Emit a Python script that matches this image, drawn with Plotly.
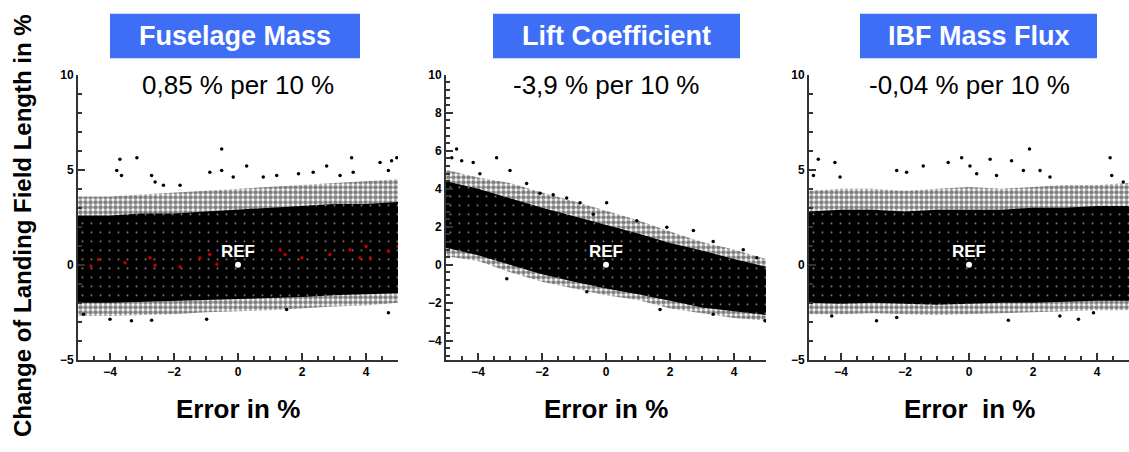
import plotly.graph_objects as go

# ---------------- data ----------------
ERR_GRID = [-5, -4, -3, -2, -1, 0, 1, 2, 3, 4, 5]

PANEL_TITLES = ["Fuselage Mass", "Lift Coefficient", "IBF Mass Flux"]
SENSITIVITIES = ["0,85 % per 10 %", "-3,9 % per 10 %", "-0,04 % per 10 %"]
X_TITLES = ["Error in %", "Error in %", "Error  in %"]
Y_TITLE = "Change of Landing Field Length in %"
REF_LABEL = "REF"
REF_X = [0]
REF_Y = [0]

# cloud envelopes: outer fringe and dense core (upper / lower edge per error value)
FUS_EDGE_HI = [3.6, 3.6, 3.7, 3.8, 3.9, 4.0, 4.1, 4.2, 4.3, 4.4, 4.5]
FUS_EDGE_LO = [-2.7, -2.7, -2.65, -2.6, -2.5, -2.45, -2.4, -2.3, -2.2, -2.15, -2.0]
FUS_CORE_HI = [2.6, 2.6, 2.7, 2.7, 2.8, 2.9, 3.0, 3.1, 3.2, 3.2, 3.3]
FUS_CORE_LO = [-2.0, -2.0, -1.95, -1.9, -1.85, -1.8, -1.75, -1.7, -1.6, -1.55, -1.5]

LIFT_EDGE_HI = [5.0, 4.6, 4.3, 3.8, 3.35, 2.85, 2.35, 1.75, 1.2, 0.8, 0.3]
LIFT_EDGE_LO = [0.45, 0.2, -0.4, -0.9, -1.25, -1.6, -1.85, -2.3, -2.55, -2.8, -2.95]
LIFT_CORE_HI = [4.4, 4.0, 3.5, 3.0, 2.55, 2.1, 1.65, 1.15, 0.75, 0.3, -0.1]
LIFT_CORE_LO = [0.9, 0.5, 0.0, -0.5, -0.9, -1.25, -1.55, -1.9, -2.25, -2.45, -2.65]

IBF_EDGE_HI = [3.9, 4.0, 4.0, 3.9, 4.0, 4.1, 4.0, 4.1, 4.2, 4.2, 4.3]
IBF_EDGE_LO = [-2.6, -2.6, -2.55, -2.6, -2.65, -2.6, -2.55, -2.5, -2.45, -2.4, -2.4]
IBF_CORE_HI = [2.8, 2.9, 2.9, 2.8, 2.9, 2.9, 2.9, 3.0, 3.0, 3.1, 3.1]
IBF_CORE_LO = [-2.0, -2.05, -2.0, -2.05, -2.1, -2.05, -2.0, -2.0, -1.95, -1.9, -1.9]

# isolated samples outside the cloud
FUS_OUT_X = [-3.69, -3.16, -3.79, -3.64, -2.70, -2.59, -2.33, -1.81, -0.88, -0.51, -0.51, -0.15,
             0.27, 0.79, 1.21, 1.89, 2.35, 2.77, 3.19, 3.55, 3.60, 4.44, 4.80, 4.96, 4.70,
             -3.33, -2.70, -0.98, 1.52, 4.70, -4.83, -4.00]
FUS_OUT_Y = [5.55, 5.64, 4.96, 4.70, 4.70, 4.36, 4.19, 4.19, 4.87, 6.10, 4.96, 4.62,
             5.20, 4.62, 4.70, 4.79, 4.87, 5.20, 4.70, 5.64, 4.87, 5.38, 5.47, 5.64, 4.96,
             -2.95, -2.92, -2.87, -2.36, -2.53, -2.60, -2.87]

LIFT_OUT_X = [-4.67, -4.82, -4.51, -4.15, -3.42, -3.00, -3.94, -2.48, -2.06, -1.65, -1.23, -0.81,
              0.02, -0.40, 0.96, 1.90, 2.73, 3.35, 4.29, 4.71,
              -3.10, -0.60, 1.69, 3.35, 4.97]
LIFT_OUT_Y = [6.10, 5.64, 5.47, 5.38, 5.64, 4.96, 4.79, 4.28, 3.77, 3.68, 3.51, 3.26,
              3.26, 2.66, 2.32, 1.98, 1.81, 1.22, 0.79, 0.37,
              -0.74, -1.42, -2.36, -2.61, -2.95]

IBF_OUT_X = [-4.71, -4.19, -4.86, -4.03, -2.26, -1.95, -1.43, -0.65, -0.23, 0.03, 0.24, 0.66,
             0.86, 1.33, 1.70, 1.89, 2.22, 2.53, 4.41, 4.46, 4.82,
             -4.29, -2.89, -2.26, 1.23, 2.84, 3.42, 3.89]
IBF_OUT_Y = [5.55, 5.38, 4.70, 4.62, 4.96, 4.87, 5.20, 5.38, 5.64, 5.20, 4.79, 5.55,
             4.70, 5.47, 4.96, 6.10, 4.96, 4.62, 5.64, 4.70, 4.36,
             -2.70, -2.95, -2.78, -2.92, -2.70, -2.87, -2.53]

# highlighted (red) samples in the fuselage panel
FUS_RED_X = [-4.60, -4.36, -3.53, -2.75, -2.59, -1.81, -1.19, -0.88, -0.66, 1.31, 1.47, 2.00,
             2.87, 3.50, 3.81, 4.13, 4.70, 5.00, 4.00]
FUS_RED_Y = [-0.06, 0.28, 0.11, 0.37, -0.03, -0.10, 0.37, 0.54, 0.03, 0.79, 0.54, 0.37,
             0.54, 0.79, 0.37, 0.37, 0.71, 0.96, 0.96]

PANELS = [
    dict(edge_hi=FUS_EDGE_HI, edge_lo=FUS_EDGE_LO, core_hi=FUS_CORE_HI, core_lo=FUS_CORE_LO,
         out_x=FUS_OUT_X, out_y=FUS_OUT_Y),
    dict(edge_hi=LIFT_EDGE_HI, edge_lo=LIFT_EDGE_LO, core_hi=LIFT_CORE_HI, core_lo=LIFT_CORE_LO,
         out_x=LIFT_OUT_X, out_y=LIFT_OUT_Y),
    dict(edge_hi=IBF_EDGE_HI, edge_lo=IBF_EDGE_LO, core_hi=IBF_CORE_HI, core_lo=IBF_CORE_LO,
         out_x=IBF_OUT_X, out_y=IBF_OUT_Y),
]

# ---------------- layout geometry ----------------
W, H = 1129, 452
X_DOMAINS = [(78, 398), (446, 766), (809, 1129)]
Y_TOP, Y_BOT = 70, 364
BOXES = [(110, 360), (493, 740), (860, 1097)]
BOX_TOP, BOX_BOT = 7, 53
BLUE = "#3d6ef5"
FONT = "Liberation Sans, Arial, sans-serif"


def px(x):
    return x / W


def py(y):
    return 1 - y / H


fig = go.Figure()

for i, p in enumerate(PANELS):
    xa = "x" if i == 0 else f"x{i+1}"
    ya = "y" if i == 0 else f"y{i+1}"
    poly_x = ERR_GRID + ERR_GRID[::-1]
    # fringe of the cloud (scattered dots)
    fig.add_trace(go.Scatter(
        x=poly_x, y=p["edge_hi"] + p["edge_lo"][::-1], xaxis=xa, yaxis=ya,
        mode="lines", line=dict(width=0), fill="toself", fillcolor="white",
        fillpattern=dict(shape=".", fgcolor="black", bgcolor="white", size=5, solidity=0.65),
        hoverinfo="skip", showlegend=False))
    # dense core (black with a few white specks)
    fig.add_trace(go.Scatter(
        x=poly_x, y=p["core_hi"] + p["core_lo"][::-1], xaxis=xa, yaxis=ya,
        mode="lines", line=dict(width=0), fill="toself", fillcolor="black",
        fillpattern=dict(shape=".", fgcolor="white", bgcolor="black", size=9, solidity=0.04),
        hoverinfo="skip", showlegend=False))
    # isolated samples
    fig.add_trace(go.Scatter(
        x=p["out_x"], y=p["out_y"], xaxis=xa, yaxis=ya, mode="markers",
        marker=dict(color="black", size=3.5), hoverinfo="skip", showlegend=False))
    if i == 0:
        fig.add_trace(go.Scatter(
            x=FUS_RED_X, y=FUS_RED_Y, xaxis=xa, yaxis=ya, mode="markers",
            marker=dict(color="#c00000", size=3.5), hoverinfo="skip", showlegend=False))
    # reference point
    fig.add_trace(go.Scatter(
        x=REF_X, y=REF_Y, xaxis=xa, yaxis=ya, mode="markers",
        marker=dict(color="white", size=6), hoverinfo="skip", showlegend=False))
    fig.add_annotation(x=REF_X[0], y=0.7, xref=xa, yref=ya, text=REF_LABEL, showarrow=False,
                       font=dict(family=FONT, size=17, color="white", weight="bold"),
                       xanchor="center", yanchor="middle")

    x0, x1 = X_DOMAINS[i]
    axis_common = dict(showline=True, linecolor="#333", linewidth=2, ticks="inside",
                       tickcolor="#333", tickwidth=1.5, ticklen=7, showgrid=False,
                       zeroline=False, tickfont=dict(family=FONT, size=12, color="black",
                                                     weight="bold"))
    xkey = "xaxis" if i == 0 else f"xaxis{i+1}"
    ykey = "yaxis" if i == 0 else f"yaxis{i+1}"
    fig.update_layout({
        xkey: dict(domain=[px(x0), px(x1)], range=[-5, 5], anchor=ya, dtick=2, tick0=0,
                   minor=dict(dtick=0.5, ticks="inside", ticklen=4, tickcolor="#333"),
                   **axis_common),
        ykey: dict(domain=[py(Y_BOT), py(Y_TOP)], range=[-5, 10], anchor=xa,
                   dtick=(2 if i == 1 else 5), tick0=0,
                   minor=dict(dtick=(0.4 if i == 1 else 1), tick0=0, ticks="inside",
                              ticklen=4, tickcolor="#333"),
                   **axis_common),
    })

    # blue title box
    b0, b1 = BOXES[i]
    fig.add_shape(type="rect", xref="paper", yref="paper", x0=px(b0), x1=px(b1),
                  y0=py(BOX_BOT), y1=py(BOX_TOP), fillcolor=BLUE, line=dict(width=0),
                  layer="above")
    fig.add_annotation(x=px((b0 + b1) / 2), y=py((BOX_TOP + BOX_BOT) / 2), xref="paper",
                       yref="paper", text=PANEL_TITLES[i], showarrow=False,
                       font=dict(family=FONT, size=27, color="white", weight="bold"),
                       xanchor="center", yanchor="middle")
    # sensitivity text
    cx = px((x0 + x1) / 2)
    fig.add_annotation(x=cx, y=py(80), xref="paper", yref="paper", text=SENSITIVITIES[i],
                       showarrow=False, font=dict(family=FONT, size=26, color="black"),
                       xanchor="center", yanchor="middle")
    # x title
    fig.add_annotation(x=cx, y=py(415), xref="paper", yref="paper", text=X_TITLES[i],
                       showarrow=False,
                       font=dict(family=FONT, size=26, color="black", weight="bold"),
                       xanchor="center", yanchor="middle")

fig.add_annotation(x=px(22), y=py(226), xref="paper", yref="paper", text=Y_TITLE,
                   textangle=-90, showarrow=False,
                   font=dict(family=FONT, size=24, color="black", weight="bold"),
                   xanchor="center", yanchor="middle")

fig.update_layout(width=W, height=H, margin=dict(l=0, r=0, t=0, b=0),
                  paper_bgcolor="white", plot_bgcolor="white")

fig.write_html("out.html")
